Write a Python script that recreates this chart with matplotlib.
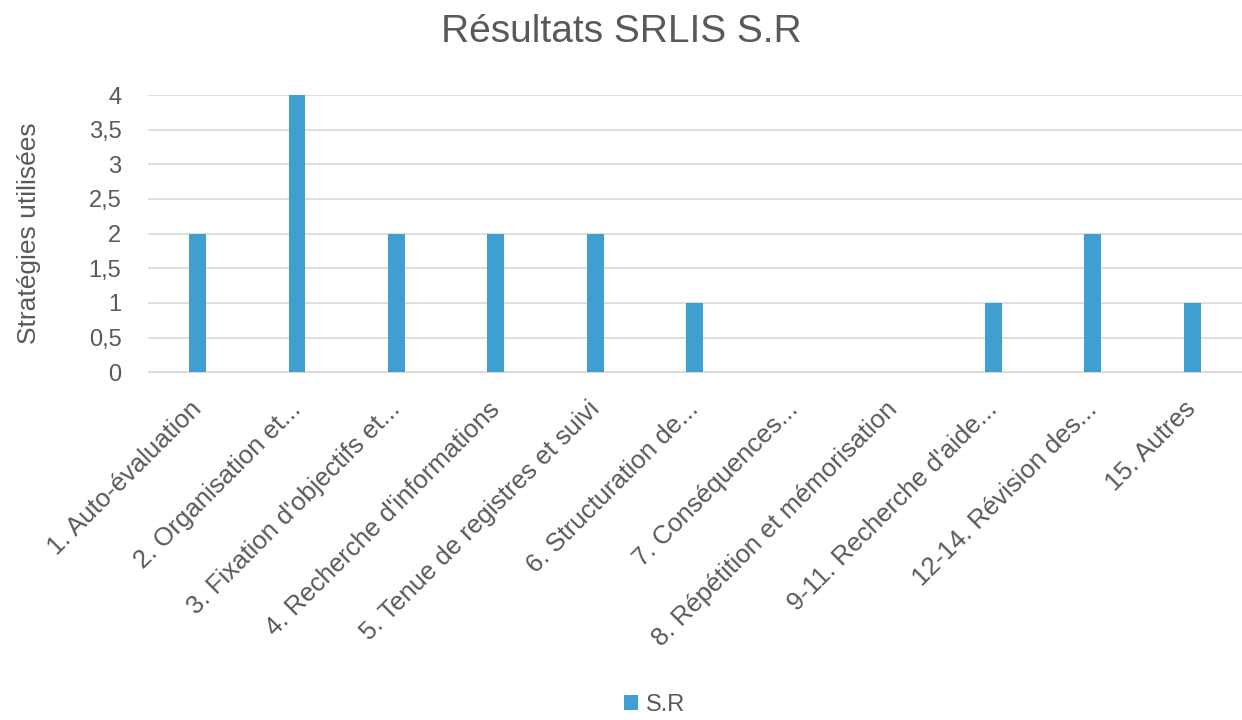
import numpy as np
import matplotlib
matplotlib.use("Agg")
import matplotlib.pyplot as plt
from matplotlib.ticker import FuncFormatter

plt.rcParams['font.family'] = ['Liberation Sans', 'DejaVu Sans']

categories = [
    "1. Auto-évaluation",
    "2. Organisation et...",
    "3. Fixation d'objectifs et...",
    "4. Recherche d'informations",
    "5. Tenue de registres et suivi",
    "6. Structuration de...",
    "7. Conséquences...",
    "8. Répétition et mémorisation",
    "9-11. Recherche d'aide...",
    "12-14. Révision des...",
    "15. Autres",
]
values_sr = [2, 4, 2, 2, 2, 1, 0, 0, 1, 2, 1]
y_ticks = [0, 0.5, 1, 1.5, 2, 2.5, 3, 3.5, 4]

bar_color = "#3E9FD0"
text_color = "#595959"

fig = plt.figure(figsize=(12.42, 7.2), dpi=100)
ax = fig.add_axes([0.119, 0.483, 0.881, 0.385])

x = np.arange(len(categories))
ax.bar(x, values_sr, width=0.17, color=bar_color, label="S.R", zorder=3)

ax.set_xlim(-0.5, len(categories) - 0.5)
ax.set_ylim(0, 4)
ax.set_yticks(y_ticks)
ax.yaxis.set_major_formatter(FuncFormatter(lambda v, p: f"{v:g}".replace(".", ",")))
ax.grid(axis='y', color="#D9D9D9", linewidth=1.2, zorder=0)
ax.tick_params(axis='y', length=0, labelsize=17, colors=text_color, pad=19)
ax.tick_params(axis='x', length=0, labelsize=18.5, colors=text_color, pad=24)
ax.set_xticks(x)
ax.set_xticklabels(categories, rotation=45, ha='right', va='center',
                   rotation_mode='anchor')
for s in ax.spines.values():
    s.set_visible(False)
ax.spines['bottom'].set_visible(True)
ax.spines['bottom'].set_color("#D9D9D9")

ax.set_ylabel("Stratégies utilisées", fontsize=19, color=text_color, labelpad=34)
fig.text(0.5, 0.955, "Résultats SRLIS S.R", ha='center', va='center',
         fontsize=28, color=text_color)

handles, labels = ax.get_legend_handles_labels()
fig.legend(handles, labels, loc='center', bbox_to_anchor=(0.527, 0.021),
           frameon=False, fontsize=17, labelcolor=text_color,
           handlelength=0.6, handleheight=0.6, handletextpad=0.3)

fig.savefig("out.png", dpi=100, facecolor='white')
